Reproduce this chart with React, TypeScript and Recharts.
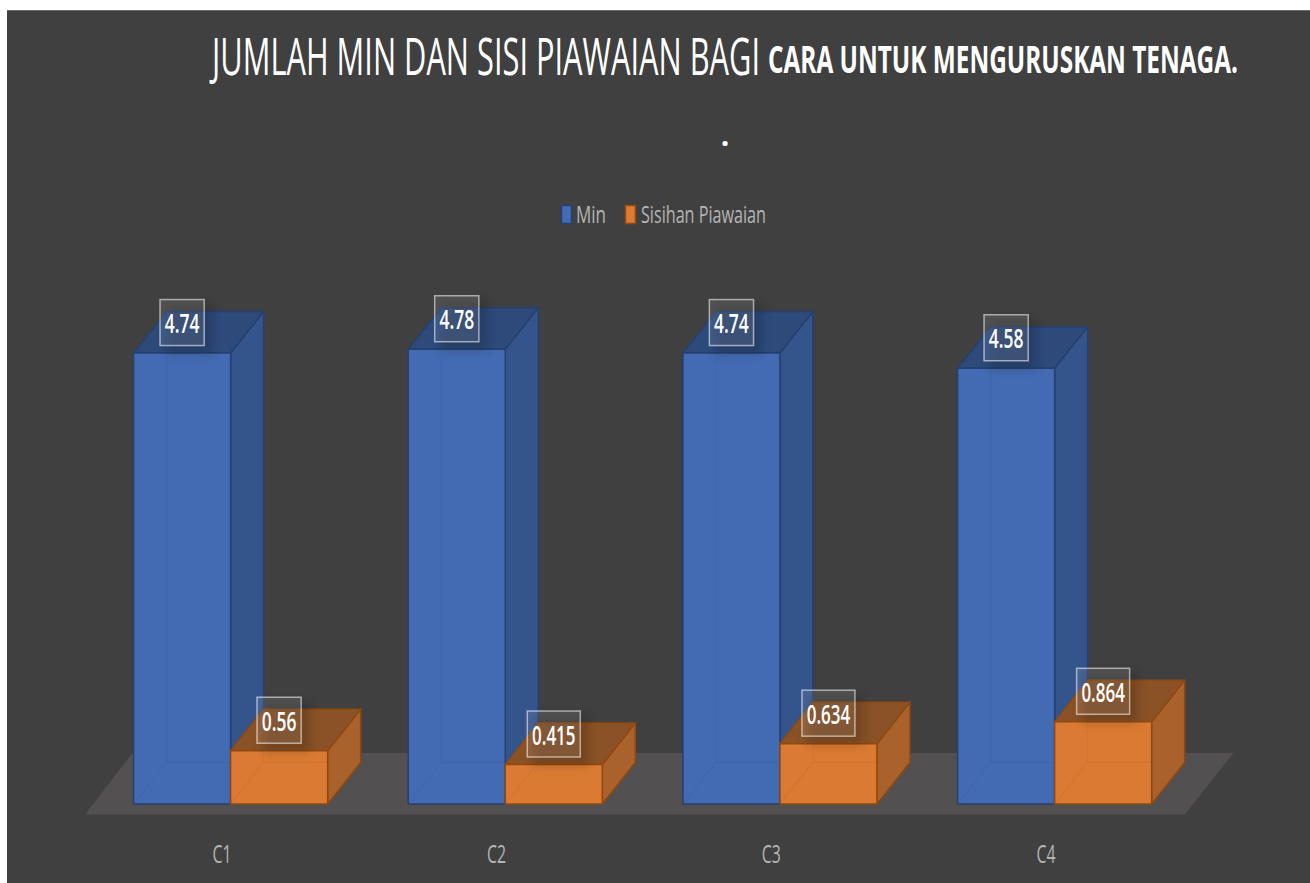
import React from 'react';
import { BarChart, Bar, XAxis, YAxis, Legend, LabelList, Customized } from 'recharts';

const categories = ['C1', 'C2', 'C3', 'C4'];
const minValues = [4.74, 4.78, 4.74, 4.58];
const sdValues = [0.56, 0.415, 0.634, 0.864];

const data = categories.map((name, i) => ({ name, min: minValues[i], sd: sdValues[i] }));

const DEPTH_X = 33;
const DEPTH_Y = 41.5;
const FONT = '"Open Sans", sans-serif';

const BLUE = { front: '#436cb6', side: '#34548c', top: '#2d4a7b', edge: '#26406f' };
const ORANGE = { front: '#de7b32', side: '#a9622b', top: '#8a5226', edge: '#90490f' };

const pts = (list: number[][]) => list.map(p => p.join(',')).join(' ');

// text squeezed sideways, the source chart's font is tall and narrow
const SquashedText = ({ x, y, width, squeeze, children, ...rest }: any) => (
  <text
    transform={`translate(${x},${y}) scale(${squeeze},1)`}
    fontFamily={FONT}
    textLength={width / squeeze}
    lengthAdjust="spacingAndGlyphs"
    {...rest}
  >
    {children}
  </text>
);

const Box3D = (props: any) => {
  const { x, y, width, height, colors } = props;
  const b = y + height;
  const r = x + width;
  return (
    <g stroke={colors.edge} strokeWidth={1.5} strokeLinejoin="round">
      <polygon
        points={pts([[r, y], [r + DEPTH_X, y - DEPTH_Y], [r + DEPTH_X, b - DEPTH_Y], [r, b]])}
        fill={colors.side}
      />
      <polygon
        points={pts([[x, y], [x + DEPTH_X, y - DEPTH_Y], [r + DEPTH_X, y - DEPTH_Y], [r, y]])}
        fill={colors.top}
      />
      <rect x={x} y={y} width={width} height={height} fill={colors.front} fillOpacity={0.98} />
      <polyline
        points={pts([[x, b], [x + DEPTH_X, b - DEPTH_Y], [r, b - DEPTH_Y]])}
        fill="none"
        stroke={colors.edge}
        strokeOpacity={0.12}
        strokeWidth={1}
      />
      <line
        x1={x + DEPTH_X}
        y1={y}
        x2={x + DEPTH_X}
        y2={b - DEPTH_Y}
        stroke={colors.edge}
        strokeOpacity={0.08}
        strokeWidth={1}
      />
    </g>
  );
};

const BoxLabel = (props: any) => {
  const { x, y, width, value } = props;
  const text = String(value);
  const textW = text.length * 8.8 - 0.5;
  const boxW = textW + 9.5;
  const cx = x + width / 2;
  return (
    <g>
      <rect
        x={cx - boxW / 2 + 5}
        y={y - 50}
        width={boxW + 4}
        height={52}
        fill="#000"
        fillOpacity={0.16}
        filter="url(#labelBlur)"
      />
      <rect
        x={cx - boxW / 2}
        y={y - 53.5}
        width={boxW}
        height={46}
        fill="#fff"
        fillOpacity={0.1}
        stroke="#fff"
        strokeOpacity={0.55}
        strokeWidth={1.5}
      />
      <SquashedText x={cx} y={y - 20} width={textW} squeeze={0.65} textAnchor="middle" fill="#fff" fontWeight={600} fontSize={27}>
        {text}
      </SquashedText>
    </g>
  );
};

const CategoryTick = (props: any) => {
  const { x, payload } = props;
  return (
    <SquashedText x={x - 9} y={863} width={19} squeeze={0.61} textAnchor="middle" fill="#b4b4b4" fontSize={26}>
      {payload.value}
    </SquashedText>
  );
};

const Backdrop = () => (
  <g>
    <defs>
      <filter id="labelBlur" x="-40%" y="-40%" width="180%" height="180%">
        <feGaussianBlur stdDeviation="5" />
      </filter>
    </defs>
    <polygon points={pts([[85, 814.5], [1185, 814.5], [1233.5, 753], [132.5, 753]])} fill="#525050" />
    <SquashedText x={212} y={75} width={548} squeeze={0.515} fill="#fff" fontSize={52}>
      JUMLAH MIN DAN SISI PIAWAIAN BAGI
    </SquashedText>
    <SquashedText x={768} y={73} width={470} squeeze={0.606} fill="#fff" fontWeight={700} fontSize={38}>
      CARA UNTUK MENGURUSKAN TENAGA.
    </SquashedText>
    <text x={725} y={146} textAnchor="middle" fill="#fff" fontFamily={FONT} fontWeight={700} fontSize={30}>
      .
    </text>
  </g>
);

const LegendRow = () => (
  <svg width={230} height={50} style={{ display: 'block' }}>
    <rect x={1.5} y={15.5} width={10} height={18} fill={BLUE.front} stroke={BLUE.edge} strokeWidth={1.5} />
    <SquashedText x={16} y={33} width={30} squeeze={0.71} fill="#b4b4b4" fontSize={24}>
      Min
    </SquashedText>
    <rect x={65.5} y={15.5} width={10} height={18} fill={ORANGE.front} stroke={ORANGE.edge} strokeWidth={1.5} />
    <SquashedText x={81} y={33} width={125} squeeze={0.65} fill="#b4b4b4" fontSize={24}>
      Sisihan Piawaian
    </SquashedText>
  </svg>
);

const App = () => (
  <div style={{ position: 'absolute', left: 0, top: 0, width: 1310, height: 883, background: '#fff', overflow: 'hidden' }}>
    <div
      style={{
        position: 'absolute',
        left: 7,
        top: 10,
        width: 1303,
        height: 873,
        background: '#404040',
        borderTop: '1px solid #6a6a6a',
        boxSizing: 'border-box',
      }}
    />
    <div style={{ position: 'absolute', left: 0, top: 0 }}>
      <BarChart
        width={1310}
        height={883}
        data={data}
        barGap={0}
        barSize={97}
        margin={{ top: 328.3, right: 117.7, bottom: 29, left: 93.6 }}
      >
        <Customized component={Backdrop} />
        <XAxis dataKey="name" axisLine={false} tickLine={false} height={50} tick={<CategoryTick />} interval={0} />
        <YAxis hide domain={[0, 5]} />
        <Legend
          verticalAlign="middle"
          content={<LegendRow />}
          wrapperStyle={{ position: 'absolute', left: 560, top: 190, width: 230, height: 50 }}
        />
        <Bar dataKey="min" name="Min" isAnimationActive={false} shape={<Box3D colors={BLUE} />}>
          <LabelList dataKey="min" content={<BoxLabel />} />
        </Bar>
        <Bar dataKey="sd" name="Sisihan Piawaian" isAnimationActive={false} shape={<Box3D colors={ORANGE} />}>
          <LabelList dataKey="sd" content={<BoxLabel />} />
        </Bar>
      </BarChart>
    </div>
  </div>
);

export default App;
